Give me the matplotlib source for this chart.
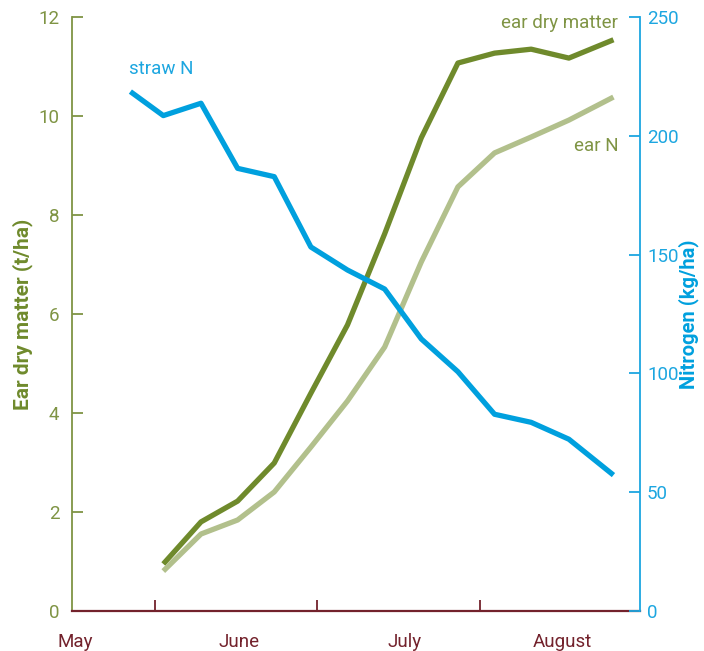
import matplotlib
matplotlib.use("Agg")
import matplotlib.pyplot as plt

# days counted from 1 May (1 June = 31, 1 July = 61, 1 August = 92)
days_straw = [26.5, 32.7, 39.8, 46.7, 53.6, 60.5, 67.4, 74.4, 81.3, 88.2, 95.1, 102.0, 109.1, 117.5]
straw_n = [218.6, 208.5, 213.7, 186.3, 182.8, 153.2, 143.5, 135.5, 114.5, 100.7, 82.8, 79.4, 72.3, 57.2]

days_ear = [32.7, 39.8, 46.7, 53.6, 60.5, 67.4, 74.4, 81.3, 88.2, 95.1, 102.0, 109.1, 117.5]
ear_dm = [0.95, 1.80, 2.22, 2.99, 4.40, 5.78, 7.62, 9.56, 11.07, 11.27, 11.35, 11.17, 11.54]
ear_n = [16.8, 32.4, 38.3, 50.1, 69.0, 88.4, 111.1, 146.9, 178.5, 192.8, 199.5, 206.6, 216.3]

month_labels = ["May", "June", "July", "August"]
month_label_pos = [16.2, 47.0, 78.2, 107.8]
month_bounds = [31.1, 61.6, 92.3]

left_ticks = [0, 2, 4, 6, 8, 10, 12]
right_ticks = [0, 50, 100, 150, 200, 250]

DARK = "#6f8a2c"
LIGHT = "#b2c08c"
BLUE = "#00a0de"
OLIVE_TXT = "#7f9444"
MAROON = "#73222c"
RBLUE = "#1ca6e0"

plt.rcParams['font.family'] = ['Roboto', 'DejaVu Sans']
LW = 'normal'

fig = plt.figure(figsize=(7.04, 6.51), dpi=100)
ax = fig.add_axes([72/704, 1-611/651, 568/704, 594/651])
ax2 = ax.twinx()

ax.plot(days_ear, ear_dm, color=DARK, lw=3.8, solid_capstyle='butt', zorder=3)
ax2.plot(days_ear, ear_n, color=LIGHT, lw=3.8, solid_capstyle='butt', zorder=2)
ax2.plot(days_straw, straw_n, color=BLUE, lw=3.8, solid_capstyle='butt', zorder=3)

ax.set_xlim(15.5, 122.5)
ax.set_ylim(0, 12)
ax2.set_ylim(0, 250)

for a in (ax, ax2):
    a.spines['top'].set_visible(False)
ax.spines['right'].set_visible(False)
ax2.spines['left'].set_visible(False)
ax2.spines['bottom'].set_visible(False)
ax.spines['left'].set_color(OLIVE_TXT)
ax.spines['left'].set_linewidth(1.3)
ax.spines['bottom'].set_color(MAROON)
ax.spines['bottom'].set_linewidth(1.6)
ax2.spines['right'].set_color(RBLUE)
ax2.spines['right'].set_linewidth(1.3)

ax.set_yticks(left_ticks)
ax.tick_params(axis='y', direction='in', length=8, width=1.3, color=OLIVE_TXT,
               labelcolor=OLIVE_TXT, labelsize=13.5, pad=9)
ax2.set_yticks(right_ticks)
ax2.tick_params(axis='y', direction='in', length=8, width=1.3, color=RBLUE,
                labelcolor=RBLUE, labelsize=13.5, pad=5)
for lab in ax.get_yticklabels() + ax2.get_yticklabels():
    lab.set_fontweight(LW)

ax.set_xticks(month_bounds)
ax.set_xticklabels([])
ax.tick_params(axis='x', which='major', direction='in', length=8, width=1.3, color=MAROON)
ax.set_xticks(month_label_pos, minor=True)
ax.set_xticklabels(month_labels, minor=True, fontweight=LW)
ax.tick_params(axis='x', which='minor', length=0, labelsize=13.5, labelcolor=MAROON, pad=16)

ax.set_ylabel("Ear dry matter (t/ha)", color=DARK, fontsize=15, fontweight='bold')
ax.yaxis.set_label_coords(-0.069, 0.5)
ax2.set_ylabel("Nitrogen (kg/ha)", color=BLUE, fontsize=14.5, fontweight='bold', rotation=90)
ax2.yaxis.set_label_coords(1.068, 0.5)

ax2.text(0.157, 0.913, "straw N", transform=ax.transAxes, color=RBLUE, fontsize=13.5,
         ha='center', va='center', fontweight=LW)
ax2.text(0.962, 0.990, "ear dry matter", transform=ax.transAxes, color=OLIVE_TXT, fontsize=13.5,
         ha='right', va='center', fontweight=LW)
ax2.text(0.962, 0.782, "ear N", transform=ax.transAxes, color=OLIVE_TXT, fontsize=13.5,
         ha='right', va='center', fontweight=LW)

fig.savefig("out.png", dpi=100)
